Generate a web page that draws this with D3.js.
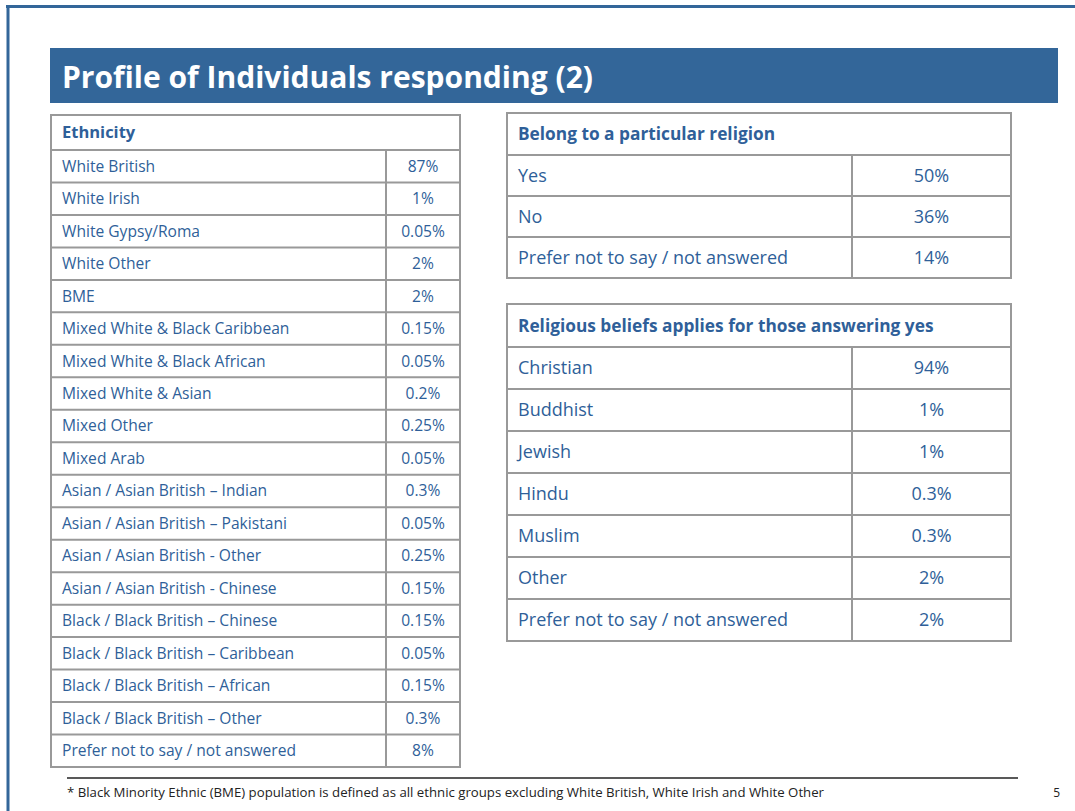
<!DOCTYPE html>
<html>
<head>
<meta charset="utf-8">
<script src="https://cdn.jsdelivr.net/npm/d3@7"></script>
<style>
  body { margin: 0; background: #fff; }
  svg { display: block; font-family: "Open Sans", sans-serif; }
</style>
</head>
<body>
<script>
const title = "Profile of Individuals responding (2)";

const ethnicityLabels = ["White British", "White Irish", "White Gypsy/Roma", "White Other", "BME",
  "Mixed White & Black Caribbean", "Mixed White & Black African", "Mixed White & Asian", "Mixed Other",
  "Mixed Arab", "Asian / Asian British \u2013 Indian", "Asian / Asian British \u2013 Pakistani",
  "Asian / Asian British - Other", "Asian / Asian British - Chinese", "Black / Black British \u2013 Chinese",
  "Black / Black British \u2013 Caribbean", "Black / Black British \u2013 African",
  "Black / Black British \u2013 Other", "Prefer not to say / not answered"];
const ethnicityValues = [87, 1, 0.05, 2, 2, 0.15, 0.05, 0.2, 0.25, 0.05, 0.3, 0.05, 0.25, 0.15, 0.15, 0.05, 0.15, 0.3, 8];

const religionLabels = ["Yes", "No", "Prefer not to say / not answered"];
const religionValues = [50, 36, 14];

const beliefLabels = ["Christian", "Buddhist", "Jewish", "Hindu", "Muslim", "Other", "Prefer not to say / not answered"];
const beliefValues = [94, 1, 1, 0.3, 0.3, 2, 2];

const footnote = "* Black Minority Ethnic (BME) population is defined as all ethnic groups excluding White British, White Irish and White Other";
const pageNumber = "5";

const blue = "#336699";
const textBlue = "#2f5f99";
const grid = "#999";

const svg = d3.select("body").append("svg")
    .attr("width", 1075)
    .attr("height", 811);

// slide frame
svg.append("line").attr("x1", 6).attr("x2", 1075).attr("y1", 6.5).attr("y2", 6.5)
    .attr("stroke", blue).attr("stroke-width", 3);
svg.append("line").attr("x1", 8).attr("x2", 8).attr("y1", 5).attr("y2", 811)
    .attr("stroke", blue).attr("stroke-width", 3);

// title bar
svg.append("rect").attr("x", 50).attr("y", 48).attr("width", 1008).attr("height", 55).attr("fill", blue);
svg.append("text").attr("x", 62).attr("y", 88)
    .attr("fill", "#fff").attr("font-size", 30).attr("font-weight", 700)
    .attr("textLength", 531).attr("lengthAdjust", "spacingAndGlyphs")
    .text(title);

function drawTable(opts) {
  const g = svg.append("g");
  const rows = opts.labels.map((l, i) => ({label: l, value: opts.values[i]}));
  const y = d3.scaleBand().domain(d3.range(rows.length)).range([opts.bodyTop, opts.bottom]);

  // header
  g.append("text")
      .attr("x", opts.x0 + 11)
      .attr("y", (opts.top + opts.bodyTop) / 2)
      .attr("dy", "0.35em")
      .attr("fill", textBlue).attr("font-size", opts.headSize).attr("font-weight", 700)
      .text(opts.header);

  const row = g.selectAll("g.row")
      .data(rows)
    .enter().append("g")
      .attr("class", "row")
      .attr("transform", (d, i) => `translate(0,${y(i)})`);

  row.append("text")
      .attr("x", opts.x0 + 11)
      .attr("y", y.bandwidth() / 2)
      .attr("dy", "0.35em")
      .attr("fill", textBlue).attr("font-size", opts.fontSize)
      .text(d => d.label);

  row.append("text")
      .attr("x", (opts.xd + opts.x1) / 2)
      .attr("y", y.bandwidth() / 2)
      .attr("dy", "0.35em")
      .attr("text-anchor", "middle")
      .attr("fill", textBlue).attr("font-size", opts.fontSize)
      .text(d => d.value + "%");

  // grid lines
  const lines = g.append("g").attr("stroke", grid).attr("stroke-width", 2).attr("fill", "none");
  lines.append("rect")
      .attr("x", opts.x0).attr("y", opts.top)
      .attr("width", opts.x1 - opts.x0).attr("height", opts.bottom - opts.top);
  lines.selectAll("line.h")
      .data(d3.range(rows.length))
    .enter().append("line")
      .attr("x1", opts.x0).attr("x2", opts.x1)
      .attr("y1", i => y(i)).attr("y2", i => y(i));
  lines.append("line")
      .attr("x1", opts.xd).attr("x2", opts.xd)
      .attr("y1", opts.bodyTop).attr("y2", opts.bottom);
}

drawTable({
  header: "Ethnicity", labels: ethnicityLabels, values: ethnicityValues,
  x0: 51, x1: 460, xd: 386, top: 115, bodyTop: 150, bottom: 767,
  fontSize: 15.6, headSize: 16.5
});

drawTable({
  header: "Belong to a particular religion", labels: religionLabels, values: religionValues,
  x0: 507, x1: 1011, xd: 852, top: 113, bodyTop: 155, bottom: 278,
  fontSize: 18, headSize: 17.3
});

drawTable({
  header: "Religious beliefs applies for those answering yes", labels: beliefLabels, values: beliefValues,
  x0: 507, x1: 1011, xd: 852, top: 304, bodyTop: 347, bottom: 641,
  fontSize: 18, headSize: 17.3
});

// footnote
svg.append("line").attr("x1", 67).attr("x2", 1018).attr("y1", 778).attr("y2", 778)
    .attr("stroke", "#222").attr("stroke-width", 1.5);
svg.append("text").attr("x", 67).attr("y", 797)
    .attr("fill", "#222").attr("font-size", 12)
    .attr("textLength", 757).attr("lengthAdjust", "spacingAndGlyphs")
    .text(footnote);
svg.append("text").attr("x", 1060).attr("y", 797).attr("text-anchor", "end")
    .attr("fill", "#222").attr("font-size", 12)
    .text(pageNumber);
</script>
</body>
</html>
